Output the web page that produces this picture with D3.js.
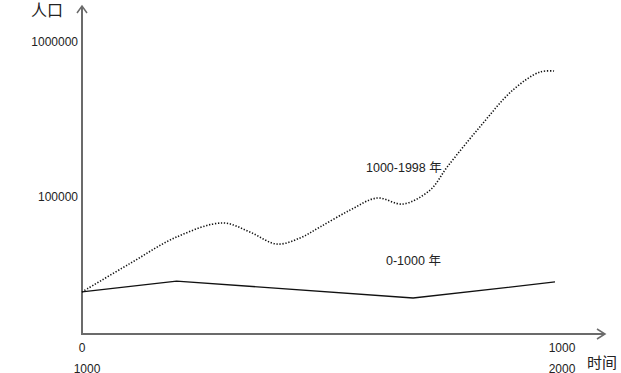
<!DOCTYPE html>
<html>
<head>
<meta charset="utf-8">
<script src="https://cdn.jsdelivr.net/npm/d3@7"></script>
<style>
  html, body { margin: 0; padding: 0; background: #fff; }
  svg { display: block; }
  text { font-family: "Liberation Sans", Arial, "Noto Sans CJK SC", sans-serif; fill: #222; }
  .cjk { font-family: "Noto Sans CJK SC", sans-serif; }
</style>
</head>
<body>
<svg id="chart" width="621" height="373"></svg>
<script>
// Données (échelle logarithmique)
const yTicks = [100000, 1000000];
const xTicksTop = [0, 1000];
const xTicksBottom = [1000, 2000];

// 0-1000 年 (trait plein)
const earlyYears = [0, 200, 700, 1000];
const earlyPop = [24400, 28700, 22300, 28300];

// 1000-1998 年 (pointillés)
const lateYears = [1000, 1100, 1200, 1298, 1355, 1412, 1461, 1503, 1567, 1624, 1679, 1736, 1772, 1841, 1911, 1968, 1998];
const latePop = [24400, 37000, 55200, 68000, 59400, 49700, 54400, 64000, 82400, 98500, 90100, 111000, 156000, 283000, 490000, 640000, 650000];

const svg = d3.select('#chart');

// Échelles
const xTop = d3.scaleLinear().domain([0, 1000]).range([82, 555]);
const xBottom = d3.scaleLinear().domain([1000, 2000]).range([82, 555]);
const y = d3.scaleLog().domain([100000, 1000000]).range([197, 42]);

const axisColor = '#6b6b6b';
const originY = 334;

// Axes avec flèches
svg.append('line')
  .attr('x1', 82).attr('y1', originY).attr('x2', 82).attr('y2', 6)
  .attr('stroke', axisColor).attr('stroke-width', 2);
svg.append('path')
  .attr('d', 'M77,13 L82,6 L87,13')
  .attr('fill', 'none').attr('stroke', axisColor).attr('stroke-width', 1.5);

svg.append('line')
  .attr('x1', 81).attr('y1', originY).attr('x2', 605).attr('y2', originY)
  .attr('stroke', axisColor).attr('stroke-width', 2);
svg.append('path')
  .attr('d', 'M597,329 L605,334 L597,339')
  .attr('fill', 'none').attr('stroke', axisColor).attr('stroke-width', 1.5);

// Graduations Y (texte seul)
svg.append('g').selectAll('text')
  .data(yTicks)
  .enter()
  .append('text')
  .attr('x', 78)
  .attr('y', d => y(d) + 4)
  .attr('text-anchor', 'end')
  .style('font-size', '12px')
  .text(d => d);

// Graduations X sur deux lignes
svg.append('g').selectAll('text')
  .data(xTicksTop)
  .enter()
  .append('text')
  .attr('x', (d, i) => xTop(d) + (i ? 7 : 0))
  .attr('y', 352)
  .attr('text-anchor', 'middle')
  .style('font-size', '12px')
  .text(d => d);

svg.append('g').selectAll('text')
  .data(xTicksBottom)
  .enter()
  .append('text')
  .attr('x', (d, i) => xBottom(d) + (i ? 7 : 5))
  .attr('y', 373)
  .attr('text-anchor', 'middle')
  .style('font-size', '12px')
  .text(d => d);

// Titres des axes
svg.append('text')
  .attr('class', 'cjk')
  .attr('x', 31).attr('y', 16)
  .style('font-size', '16px')
  .text('人口');

svg.append('text')
  .attr('class', 'cjk')
  .attr('x', 587).attr('y', 368)
  .style('font-size', '15px')
  .text('时间');

// Courbes
const early = earlyYears.map((d, i) => ({ x: d, y: earlyPop[i] }));
const late = lateYears.map((d, i) => ({ x: d, y: latePop[i] }));

svg.append('path')
  .datum(early)
  .attr('fill', 'none')
  .attr('stroke', '#111')
  .attr('stroke-width', 1.3)
  .attr('d', d3.line().x(d => xTop(d.x)).y(d => y(d.y)));

svg.append('path')
  .datum(late)
  .attr('fill', 'none')
  .attr('stroke', '#111')
  .attr('stroke-width', 1.6)
  .attr('stroke-dasharray', '1.3,1.7')
  .attr('d', d3.line().curve(d3.curveCatmullRom.alpha(0.5)).x(d => xBottom(d.x)).y(d => y(d.y)));

// Étiquettes des séries
svg.append('text')
  .attr('x', 366).attr('y', 172)
  .style('font-size', '12.5px')
  .text('1000-1998 ')
  .append('tspan').attr('class', 'cjk').text('年');

svg.append('text')
  .attr('x', 386).attr('y', 265)
  .style('font-size', '12.5px')
  .text('0-1000 ')
  .append('tspan').attr('class', 'cjk').text('年');
</script>
</body>
</html>
